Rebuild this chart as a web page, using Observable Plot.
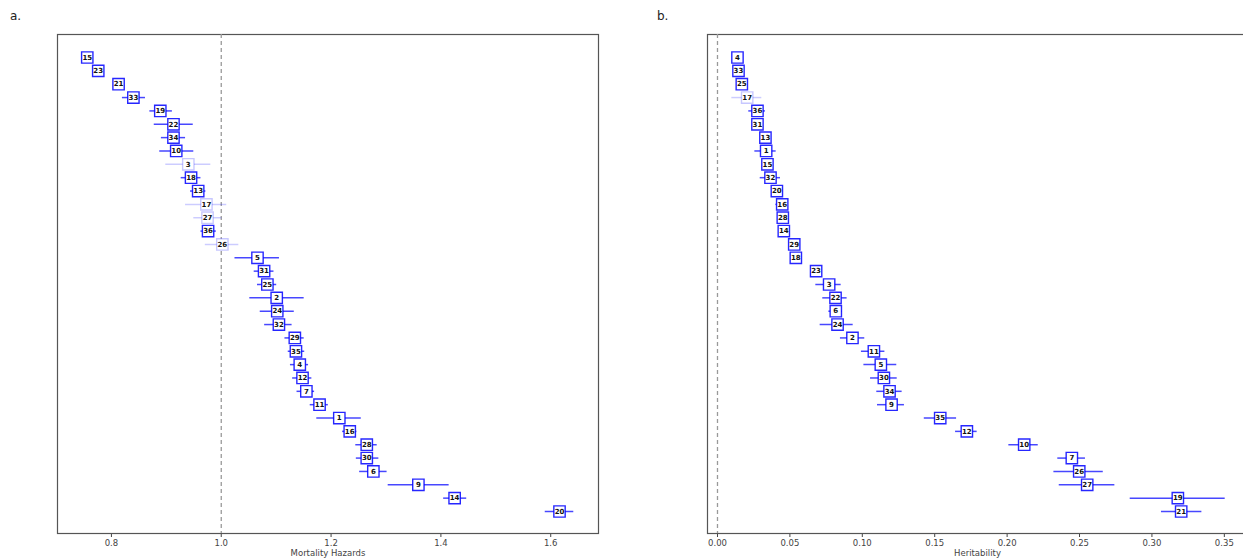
<!DOCTYPE html>
<html><head><meta charset="utf-8">
<script src="https://cdn.jsdelivr.net/npm/d3@7"></script>
<script src="https://cdn.jsdelivr.net/npm/@observablehq/plot@0.6"></script>
<style>
html,body{margin:0;padding:0;background:#fff;overflow:hidden;}
#wrap{position:relative;width:1243px;height:559px;overflow:hidden;font-family:"DejaVu Sans",sans-serif;}
.panel{position:absolute;top:0;}
.panel svg{max-width:none !important;}
.tag{position:absolute;font-size:12px;color:#222;z-index:5;}
</style></head><body>
<div id="wrap">
<div id="pa" class="panel" style="left:0px;width:621px"></div>
<div id="pb" class="panel" style="left:650px;width:600px"></div>
<div class="tag" style="left:10px;top:9px">a.</div>
<div class="tag" style="left:657px;top:9px">b.</div>
</div>
<script>
// Panel a: Mortality hazards
const mortLabels = [15,23,21,33,19,22,34,10,3,18,13,17,27,36,26,5,31,25,2,24,32,29,35,4,12,7,11,1,16,28,30,6,9,14,20];
const mortValue  = [0.756,0.776,0.813,0.840,0.889,0.913,0.913,0.918,0.940,0.945,0.958,0.973,0.975,0.976,1.002,1.066,1.078,1.084,1.101,1.102,1.105,1.134,1.136,1.143,1.148,1.155,1.179,1.215,1.234,1.265,1.265,1.277,1.359,1.425,1.616];
const mortLow    = [0.747,0.771,0.810,0.820,0.870,0.878,0.891,0.888,0.899,0.927,0.944,0.935,0.950,0.963,0.971,1.025,1.060,1.066,1.052,1.071,1.079,1.116,1.122,1.126,1.130,1.138,1.162,1.174,1.221,1.245,1.246,1.252,1.304,1.405,1.590];
const mortHigh   = [0.762,0.781,0.816,0.862,0.911,0.949,0.935,0.950,0.981,0.963,0.972,1.010,1.001,0.991,1.032,1.106,1.096,1.101,1.151,1.133,1.129,1.151,1.152,1.159,1.165,1.170,1.195,1.255,1.247,1.284,1.287,1.302,1.415,1.447,1.642];
const mortFaint  = [3,17,27,26];
const mortTicks  = [0.8,1.0,1.2,1.4,1.6];

// Panel b: Heritability
const herLabels = [4,33,25,17,36,31,13,1,15,32,20,16,28,14,29,18,23,3,22,6,24,2,11,5,30,34,9,35,12,10,7,26,27,19,21];
const herValue  = [0.0138,0.0145,0.0168,0.0205,0.0276,0.0276,0.0331,0.0336,0.0345,0.0366,0.0410,0.0447,0.0451,0.0458,0.0530,0.0541,0.0681,0.0771,0.0815,0.0817,0.0829,0.0932,0.1080,0.1128,0.1149,0.1188,0.1202,0.1538,0.1722,0.2118,0.2447,0.2498,0.2553,0.3179,0.3202];
const herLow    = [0.0135,0.0142,0.0165,0.0099,0.0216,0.0273,0.0328,0.0258,0.0342,0.0295,0.0407,0.0403,0.0448,0.0455,0.0527,0.0538,0.0678,0.0679,0.0727,0.0769,0.0709,0.0849,0.0994,0.1011,0.1057,0.1100,0.1105,0.1428,0.1644,0.2012,0.2350,0.2323,0.2360,0.2850,0.3066];
const herHigh   = [0.0141,0.0148,0.0171,0.0306,0.0331,0.0279,0.0334,0.0405,0.0348,0.0435,0.0413,0.0470,0.0454,0.0461,0.0533,0.0544,0.0684,0.0854,0.0895,0.0863,0.0937,0.1017,0.1156,0.1238,0.1241,0.1275,0.1291,0.1651,0.1793,0.2215,0.2541,0.2664,0.2744,0.3506,0.3345];
const herFaint  = [17];
const herTicks  = [0,0.05,0.10,0.15,0.20,0.25,0.30,0.35];

function panel(labels, val, lo, hi, faint, cfg) {
  const rows = labels.map((l, i) => ({
    i, label: String(l), v: val[i], lo: lo[i], hi: hi[i],
    op: faint.includes(l) ? 0.2 : 0.72,
    bop: faint.includes(l) ? 0.22 : 0.85
  }));
  return Plot.plot({
    width: cfg.width, height: 559,
    marginTop: 34, marginBottom: 26, marginLeft: 57, marginRight: cfg.marginRight,
    style: {fontFamily: "DejaVu Sans, sans-serif", fontSize: "8.5px", color: "#444", background: "white", overflow: "visible", maxWidth: "none"},
    x: {domain: cfg.domain, ticks: cfg.ticks, tickFormat: cfg.fmt, tickSize: 4, tickPadding: 2,
        label: cfg.label, labelAnchor: "center", labelArrow: "none", labelOffset: 22.5},
    y: {domain: [0, labels.length - 1], range: [57, 511], axis: null},
    marks: [
      Plot.frame({stroke: "#555", strokeWidth: 1.2}),
      Plot.ruleX([cfg.ref], {stroke: "#999", strokeDasharray: "4,3", strokeWidth: 1.3}),
      Plot.ruleY(rows, {y: "i", x1: "lo", x2: "hi", stroke: "blue", strokeOpacity: "op", strokeWidth: 1.5}),
      Plot.dot(rows, {x: "v", y: "i", symbol: "square", r: 6.4, fill: "white", stroke: "blue", strokeOpacity: "bop", strokeWidth: 1.4}),
      Plot.text(rows, {x: "v", y: "i", text: "label", fontSize: 7, fontWeight: "bold", fill: "#111"})
    ]
  });
}

document.getElementById("pa").append(panel(mortLabels, mortValue, mortLow, mortHigh, mortFaint, {
  width: 621, marginRight: 23, domain: [0.7018, 1.687], ticks: mortTicks, fmt: d3.format(".1f"),
  label: "Mortality Hazards", ref: 1
}));
document.getElementById("pb").append(panel(herLabels, herValue, herLow, herHigh, herFaint, {
  width: 600, marginRight: 3, domain: [-0.0069, 0.366], ticks: herTicks, fmt: d3.format(".2f"),
  label: "Heritability", ref: 0
}));
</script>
</body></html>
